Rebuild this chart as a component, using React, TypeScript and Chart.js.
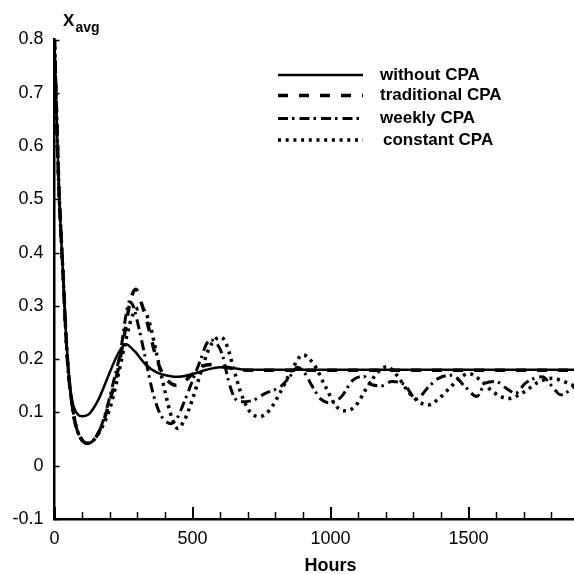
import React, { useEffect, useRef } from "react";
import { Chart, registerables } from "chart.js";

Chart.register(...registerables);

const X_MIN = 0;
const X_MAX = 1882;
const Y_MIN = -0.1;
const Y_MAX = 0.8;
const xTickLabels = [0, 500, 1000, 1500];
const xMinorStep = 100;
const yTickStep = 0.1;

const seriesLabels = ["without CPA", "traditional CPA", "weekly CPA", "constant CPA"];

const withoutHours = [0, 8, 16, 24, 32, 40, 48, 56, 70, 85, 101, 125, 160, 200, 230, 258, 290, 330, 370, 420, 450, 500, 550, 600, 650, 700, 900, 1200, 1500, 1882];
const withoutValues = [0.8, 0.65, 0.52, 0.43, 0.35, 0.26, 0.2, 0.145, 0.11, 0.096, 0.093, 0.097, 0.125, 0.175, 0.21, 0.228, 0.215, 0.19, 0.175, 0.168, 0.167, 0.172, 0.18, 0.185, 0.183, 0.18, 0.18, 0.18, 0.18, 0.18];

const traditionalHours = [0, 8, 16, 24, 32, 40, 48, 60, 75, 95, 120, 145, 175, 205, 230, 252, 275, 295, 315, 337, 361, 385, 410, 440, 470, 500, 531, 570, 610, 660, 720, 900, 1200, 1500, 1882];
const traditionalValues = [0.8, 0.65, 0.52, 0.43, 0.35, 0.26, 0.19, 0.13, 0.08, 0.052, 0.042, 0.05, 0.08, 0.13, 0.18, 0.242, 0.31, 0.331, 0.305, 0.267, 0.217, 0.18, 0.16, 0.151, 0.158, 0.172, 0.186, 0.19, 0.186, 0.181, 0.179, 0.179, 0.179, 0.179, 0.179];

const weeklyHours = [0, 8, 16, 24, 32, 40, 48, 60, 75, 95, 120, 145, 170, 191, 215, 240, 258, 270, 285, 305, 330, 355, 380, 400, 422, 445, 470, 500, 530, 550, 567, 590, 610, 630, 650, 670, 720, 760, 822, 860, 880, 905, 935, 965, 1000, 1040, 1080, 1120, 1150, 1185, 1222, 1270, 1310, 1355, 1391, 1440, 1488, 1530, 1561, 1597, 1646, 1670, 1706, 1767, 1804, 1834, 1882];
const weeklyValues = [0.8, 0.65, 0.52, 0.43, 0.35, 0.26, 0.19, 0.13, 0.08, 0.052, 0.042, 0.05, 0.075, 0.111, 0.16, 0.217, 0.28, 0.308, 0.3, 0.26, 0.2, 0.14, 0.1, 0.085, 0.079, 0.09, 0.12, 0.16, 0.2, 0.228, 0.236, 0.228, 0.205, 0.16, 0.13, 0.12, 0.123, 0.135, 0.15, 0.172, 0.185, 0.175, 0.148, 0.125, 0.118, 0.13, 0.16, 0.168, 0.152, 0.15, 0.158, 0.151, 0.125, 0.148, 0.164, 0.17, 0.148, 0.13, 0.155, 0.158, 0.142, 0.136, 0.155, 0.167, 0.148, 0.133, 0.148];

const constantHours = [0, 8, 16, 24, 32, 40, 48, 60, 75, 95, 120, 145, 175, 205, 235, 260, 285, 313, 340, 370, 400, 425, 446, 470, 500, 530, 560, 585, 604, 625, 650, 680, 710, 743, 780, 820, 860, 900, 940, 980, 1020, 1052, 1090, 1130, 1170, 1204, 1240, 1280, 1320, 1355, 1390, 1430, 1470, 1500, 1540, 1590, 1646, 1700, 1750, 1804, 1850, 1882];
const constantValues = [0.8, 0.65, 0.52, 0.43, 0.35, 0.26, 0.19, 0.13, 0.08, 0.052, 0.042, 0.05, 0.075, 0.115, 0.18, 0.24, 0.285, 0.296, 0.275, 0.21, 0.14, 0.09, 0.07, 0.085, 0.125, 0.175, 0.22, 0.238, 0.241, 0.225, 0.18, 0.13, 0.1, 0.092, 0.105, 0.14, 0.18, 0.208, 0.19, 0.15, 0.112, 0.103, 0.112, 0.145, 0.175, 0.186, 0.17, 0.14, 0.12, 0.114, 0.125, 0.145, 0.165, 0.173, 0.162, 0.138, 0.126, 0.138, 0.156, 0.164, 0.157, 0.15];

const FONT = '"Liberation Sans", Arial, Helvetica, sans-serif';

function pts(xs: number[], ys: number[]) {
  return xs.map((x, i) => ({ x, y: ys[i] }));
}

const overlayPlugin = {
  id: "overlay",
  afterDraw(chart: any) {
    const ctx = chart.ctx as CanvasRenderingContext2D;
    const xs = chart.scales.x;
    const ys = chart.scales.y;
    const ca = chart.chartArea;
    ctx.save();
    ctx.strokeStyle = "#000";
    ctx.fillStyle = "#000";
    ctx.setLineDash([]);
    // inward x ticks
    for (let v = X_MIN; v <= X_MAX; v += xMinorStep) {
      const major = v % 500 === 0;
      const px = Math.round(xs.getPixelForValue(v)) + (major ? 0 : 0.5);
      ctx.lineWidth = major ? 2 : 1.5;
      ctx.beginPath();
      ctx.moveTo(px, ca.bottom);
      ctx.lineTo(px, ca.bottom - (major ? 12 : 7));
      ctx.stroke();
    }
    // inward y ticks
    ctx.lineWidth = 1.5;
    for (let k = 0; k <= Math.round((Y_MAX - Y_MIN) / yTickStep); k++) {
      const v = Y_MIN + k * yTickStep;
      const py = Math.round(ys.getPixelForValue(v)) + 0.5;
      ctx.beginPath();
      ctx.moveTo(ca.left, py);
      ctx.lineTo(ca.left + 5, py);
      ctx.stroke();
    }
    // y title X_avg
    ctx.textAlign = "left";
    ctx.textBaseline = "alphabetic";
    ctx.font = `bold 17px ${FONT}`;
    ctx.fillText("X", 63, 26);
    ctx.font = `bold 14px ${FONT}`;
    ctx.fillText("avg", 75.5, 32);
    // x title
    ctx.font = `bold 18px ${FONT}`;
    ctx.textAlign = "center";
    ctx.textBaseline = "middle";
    ctx.fillText("Hours", xs.getPixelForValue(1000), 566);
    // legend
    const rows = [75, 95.5, 118.5, 140];
    chart.data.datasets.forEach((ds: any, i: number) => {
      const y = rows[i];
      ctx.beginPath();
      ctx.lineWidth = ds.borderWidth;
      ctx.lineCap = "butt";
      ctx.setLineDash(ds.borderDash || []);
      ctx.moveTo(278, y);
      ctx.lineTo(363, y);
      ctx.stroke();
      ctx.setLineDash([]);
      ctx.font = `bold 17px ${FONT}`;
      ctx.textAlign = "left";
      ctx.textBaseline = "middle";
      ctx.fillText(ds.label, i === 3 ? 383 : 380, y);
    });
    ctx.restore();
  },
};

export default function App() {
  const ref = useRef<HTMLCanvasElement | null>(null);
  useEffect(() => {
    if (!ref.current) return;
    const common = {
      pointRadius: 0,
      borderColor: "#000",
      backgroundColor: "#000",
      fill: false,
      cubicInterpolationMode: "monotone" as const,
      borderCapStyle: "butt" as const,
    };
    const chart = new Chart(ref.current, {
      type: "line",
      data: {
        datasets: [
          { ...common, label: seriesLabels[0], data: pts(withoutHours, withoutValues), borderWidth: 2.5, borderDash: [] },
          { ...common, label: seriesLabels[1], data: pts(traditionalHours, traditionalValues), borderWidth: 3.5, borderDash: [10, 11] },
          { ...common, label: seriesLabels[2], data: pts(weeklyHours, weeklyValues), borderWidth: 3, borderDash: [10, 4, 2.5, 5] },
          { ...common, label: seriesLabels[3], data: pts(constantHours, constantValues), borderWidth: 3.5, borderDash: [3, 4.7] },
        ],
      },
      options: {
        responsive: false,
        animation: false,
        devicePixelRatio: 1,
        layout: { padding: { top: 39.5, right: 0, left: 0, bottom: 0 } },
        plugins: { legend: { display: false }, tooltip: { enabled: false }, title: { display: false } },
        scales: {
          x: {
            type: "linear",
            min: X_MIN,
            max: X_MAX,
            grid: { display: false, drawTicks: false },
            border: { display: true, color: "#000", width: 2.5 },
            ticks: {
              color: "#000",
              font: { family: FONT, size: 18 },
              padding: 9,
              maxRotation: 0,
              callback: (v: any) => String(v),
            },
            afterBuildTicks: (scale: any) => {
              scale.ticks = xTickLabels.map((v) => ({ value: v }));
            },
            afterFit: (scale: any) => {
              scale.height = 55;
            },
          },
          y: {
            type: "linear",
            min: Y_MIN,
            max: Y_MAX,
            grid: { display: false, drawTicks: false },
            border: { display: true, color: "#000", width: 2.5 },
            ticks: {
              color: "#000",
              font: { family: FONT, size: 18 },
              padding: 11,
              stepSize: yTickStep,
              callback: (v: any) => String(Number(Number(v).toFixed(1))),
            },
            afterFit: (scale: any) => {
              scale.width = 54.5;
            },
          },
        },
      },
      plugins: [overlayPlugin],
    });
    return () => chart.destroy();
  }, []);
  return (
    <div style={{ position: "fixed", left: 0, top: 0, width: 574, height: 574, background: "#fff" }}>
      <canvas ref={ref} width={574} height={574} style={{ display: "block" }} />
    </div>
  );
}
